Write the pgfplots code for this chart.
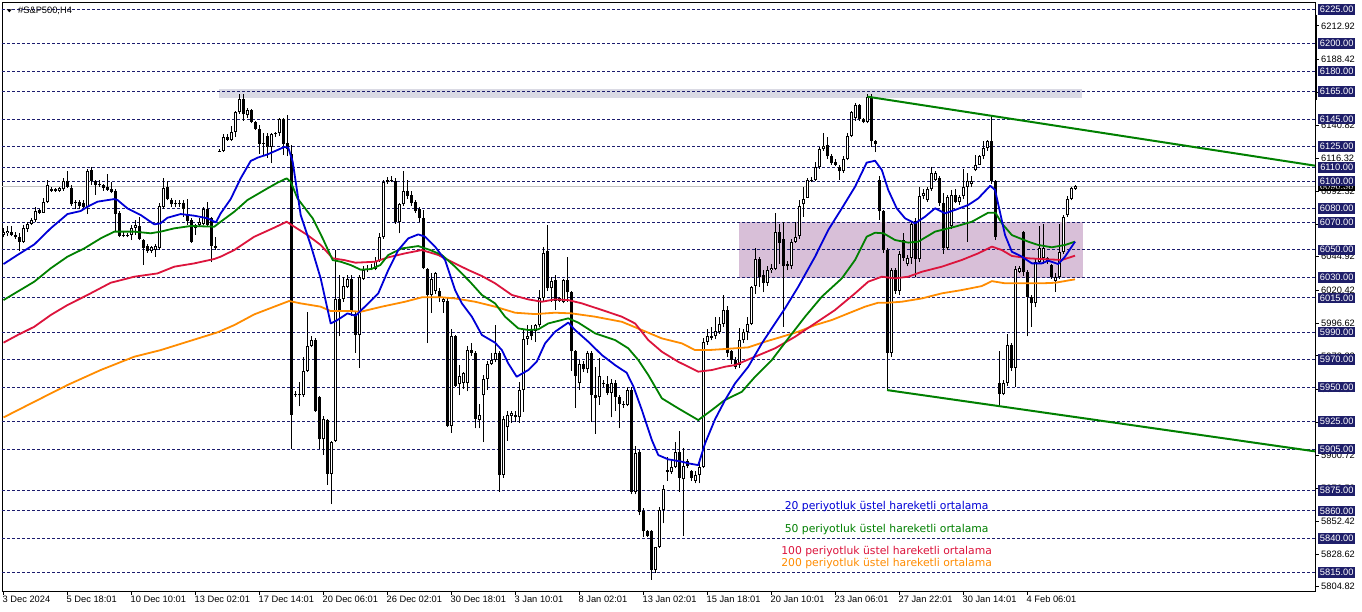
\documentclass[border=0pt]{standalone}
\usepackage{fontspec}
\setmainfont{Liberation Sans}
\newfontfamily\dejavu{DejaVu Sans}
\usepackage{pgfplots}
\pgfplotsset{compat=1.18}
\usepackage{pgfplotstable}
\definecolor{gridnavy}{RGB}{28,28,110}
\definecolor{boxnavy}{RGB}{30,30,105}
\definecolor{emablue}{RGB}{0,0,215}
\definecolor{emagreen}{RGB}{0,128,0}
\definecolor{emared}{RGB}{220,20,60}
\definecolor{emaorange}{RGB}{255,140,0}
\definecolor{topband}{RGB}{218,218,228}
\definecolor{purpband}{RGB}{216,191,216}
\definecolor{pricegray}{RGB}{192,192,192}
\newcommand\lab{\fontsize{9.3}{10}\selectfont}
\newcommand\ann{\dejavu\fontsize{10.8}{12}\selectfont}

\pgfplotstableread{
i o h l c
0 6061 6066 6059 6063
1 6062 6067 6060 6064
2 6063 6067 6060 6061
3 6061 6063 6058 6059
4 6059 6062 6049 6056
5 6056 6068 6055 6066
6 6065 6070 6063 6069
7 6069 6073 6068 6072
8 6072 6081 6070 6078
9 6079 6080 6076 6077
10 6077 6088 6077 6085
11 6085 6101 6084 6097
12 6094 6096 6092 6093
13 6094 6095 6092 6093
14 6093 6096 6092 6095
15 6094 6102 6093 6100
16 6100 6107 6095 6096
17 6095 6097 6082 6083
18 6085 6086 6080 6084
19 6085 6086 6080 6082
20 6084 6086 6079 6081
21 6081 6109 6076 6107
22 6108 6110 6097 6100
23 6100 6101 6090 6097
24 6097 6101 6096 6098
25 6097 6098 6093 6095
26 6096 6105 6093 6093.5
27 6094 6099 6091 6092
28 6093 6094 6064 6076
29 6077 6078 6059 6060
30 6061 6063 6059 6060
31 6061 6062 6059 6060
32 6061 6068 6057 6066
33 6066 6072 6061 6068
34 6067 6074 6057 6058
35 6057 6058 6039 6051
36 6053 6054 6048 6049
37 6049 6053 6048 6052
38 6050 6054 6045 6053
39 6051 6084 6050 6082
40 6081 6102 6080 6095
41 6096 6100 6086 6087
42 6086 6088 6081 6083
43 6084 6086 6081 6083
44 6083 6086 6081 6084
45 6084 6086 6074 6080
46 6075 6087 6068 6071
47 6072 6073 6055 6056
48 6066 6069 6061 6068
49 6068 6073 6067 6070
50 6069 6081 6068 6080
51 6080 6085 6067 6068
52 6073 6074 6041 6053
53 6053 6059 6050 6051
54 6122 6123 6121 6121.5
55 6122 6134 6121 6132
56 6132 6134 6129 6130
57 6130 6140 6129 6136
58 6136 6151 6132 6150
59 6150 6163 6149 6160
60 6160 6163 6144 6148.5
61 6148 6153 6146 6152
62 6152 6152.5 6142 6143
63 6143 6143.5 6137 6138
64 6138 6141 6120 6127
65 6127 6135 6119 6128
66 6133 6135 6117 6125
67 6125 6135 6113 6134
68 6134 6136 6132 6135
69 6135 6146 6133 6145
70 6145 6146 6119 6127
71 6128 6148 6118 6123
72 6120 6126 5905 5930
73 5945 5947 5943 5944
74 5944 5954 5936 5945
75 5944 5972 5943 5962
76 5962 6005 5961 5980
77 5980 5987 5979 5984
78 5984 5986 5932 5933
79 5943 5943.5 5905 5912
80 5912 5929 5901 5927
81 5926 5927 5879 5887
82 5887 5911 5865 5910
83 5911 6050 5910 6014
84 6014 6032 5987 6005
85 6014 6030 6012 6024
86 6023 6032 6022 6029
87 6029 6032 6002 6005
88 6003 6005 5975 5988
89 5988 6032 5964 6030
90 6029 6038 6028 6035
91 6035 6039 6034 6036
92 6036 6040 6035 6037
93 6036 6045 6035 6042
94 6042 6062 6041 6059.5
95 6059 6101 6058 6099
96 6101 6103 6098 6099
97 6100 6104 6099 6101
98 6100 6102 6069 6070
99 6070 6084 6062 6083
100 6083 6107 6082 6093
101 6093 6101 6087 6089
102 6090 6093 6082 6084
103 6085 6086 6077 6078
104 6080 6081 6070 6073
105 6073 6079 6036 6036.5
106 6036 6037 5982 6017
107 6017 6033 6004 6029
108 6020 6034 6018 6033
109 6020 6022 6012 6015
110 6012 6016 6004 6014
111 6013 6015 5921 5922
112 5922 5992 5917 5987
113 5987 5988 5950 5951
114 5952 5966 5944 5958
115 5953 5961 5949 5960
116 5953 5980 5947 5977
117 5977 5982 5973 5975
118 5975 5976 5920 5927
119 5926 5938 5920 5930
120 5944 5959 5910 5956
121 5956 5969 5948 5967
122 5967 5975 5966 5970
123 5970 5995 5968 5975
124 5975 5976 5874 5886
125 5886 5929 5884 5927
126 5921 5933 5911 5930
127 5929 5933 5924 5931
128 5930 5933 5925 5928
129 5928 5954 5924 5948
130 5948 5992 5932 5985
131 5985 5995 5981 5987
132 5992 5995 5984 5987
133 5991 5996 5983 5995
134 5995 6021 5994 6015
135 6015 6052 6013 6048
136 6049 6068 6020 6022
137 6022 6030 6012 6027
138 6028 6032 6006 6013
139 6013 6016 6012 6015
140 6012 6029 6011 6028
141 6028 6045 6012 6019
142 6019 6020 5962 5976
143 5976 5977 5935 5958
144 5953 5970 5948 5967
145 5967 5969 5961 5963
146 5963 5976 5960 5975
147 5975 5976 5925 5944
148 5944 5965 5916 5942
149 5943 5971 5937 5958
150 5953 5955 5950 5952
151 5952 5958 5944 5946
152 5946 5956 5928 5953
153 5953 5955 5933 5943
154 5943 5944 5920 5938
155 5938 5940 5935 5937
156 5937 5950 5936 5948
157 5948 5950 5872 5874
158 5874 5907 5872 5902
159 5903 5904 5857 5859
160 5860 5862 5841 5845
161 5845 5846 5841 5842
162 5845 5846 5810 5817
163 5817 5834 5815 5834
164 5834 5863 5833 5861
165 5861 5879 5851 5876
166 5890 5899 5882 5888.5
167 5888 5897 5887 5892
168 5892 5910 5891 5903
169 5903 5918 5874 5884
170 5883 5906 5842 5893
171 5896 5898 5891 5893
172 5889 5890 5882 5884
173 5882 5889 5880 5886
174 5886 5895 5880 5892
175 5892 5986 5891 5983
176 5983 5992 5981 5987
177 5986 5994 5984 5987
178 5987 6001 5985 5991
179 5990 6001 5989 5996
180 5996 6017 5994 6006
181 6006 6009 5972 5975
182 5976 5977 5967 5970
183 5970 5972 5963 5965
184 5966 5993 5964 5984
185 5984 5992 5982 5990
186 5990 6001 5984 5996
187 5996 6024 5995 6023
188 6024 6051 6018 6043
189 6043 6045 6023 6030
190 6032 6035 6019 6026
191 6026 6038 6024 6035
192 6035 6040 6033 6036.5
193 6036 6077 6035 6063
194 6063 6069 6040 6055
195 6058 6070 5994 6038
196 6040 6042 6035 6038
197 6038 6058 6036 6056
198 6056 6070 6055 6059.5
199 6060 6086 6058 6082
200 6083 6096 6074 6087
201 6088 6102 6088 6101
202 6100 6103 6099 6101
203 6101 6114 6100 6110
204 6110 6125 6109 6123
205 6123 6135 6122 6125.5
206 6126 6132 6116 6118
207 6118 6120 6112 6113
208 6114 6116 6111 6112
209 6110 6112 6101 6107
210 6107 6118 6106 6116
211 6116 6135 6115 6133
212 6133 6151 6132 6150
213 6146 6157 6144 6155
214 6155 6156 6144 6145
215 6145 6146 6142 6143
216 6143 6163 6142 6161
217 6161 6163 6125 6129
218 6129 6130 6121 6127
219 6101 6104 6072 6078
220 6078 6079 6048 6050
221 6050 6051 5948 5975
222 5975 6037 5972 6035
223 6035 6037 6018 6020
224 6020 6049 6017 6047
225 6057 6062 6042 6044
226 6040 6046 6038 6044
227 6044 6070 6040 6069
228 6071 6073 6030 6043
229 6043 6096 6041 6089
230 6089 6094 6087 6091
231 6086 6096 6085 6094
232 6094 6110 6093 6105.6
233 6101 6107 6100 6106
234 6102 6104 6082 6084
235 6084 6091 6047 6051
236 6051 6090 6050 6088.6
237 6067 6093.5 6065 6090
238 6090 6094 6084 6085
239 6085 6090 6082.6 6088.6
240 6089 6109 6087 6096
241 6096 6106 6056 6100
242 6098 6104 6096 6100
243 6108 6119 6107 6112
244 6112 6119 6112 6118
245 6118 6129 6116 6124
246 6124 6130 6122 6129
247 6129 6147 6098 6100
248 6100 6101 6057 6059.5
249 5953 5976 5936 5945
250 5945 5955 5944 5953
251 5953 5989 5951 5981
252 5981 5982 5962 5964
253 5964 6038 5950 6036
254 6034 6038 6033 6036.5
255 6063 6064 6031 6034
256 6034 6035 5987 6016
257 6016 6017 5994 6011
258 6011 6043 6008 6041
259 6041 6067 6040 6051
260 6044 6069 6040 6051
261 6041 6045 6040 6044
262 6039 6040 6029 6030
263 6027 6033 6019.5 6030.4
264 6030 6069 6029 6048.6
265 6048.6 6075 6047 6074
266 6075 6089 6074 6087
267 6087 6096 6086 6095
268 6094.5 6097 6093.5 6096.38
}\candles

\pgfplotstableread{
i p
0 6039.6
3.5 6046.2
7.7 6053.9
11.8 6065.6
16 6076
19.3 6078.2
21 6081.3
23.5 6085
27.7 6086.9
28.5 6086.2
31 6080.1
34.3 6075.3
37.7 6068.5
39.2 6069.2
41 6073.3
44.3 6076
47.7 6074.8
51 6072.9
53.1 6069.9
54.3 6076.5
56.8 6086.9
59.3 6102
61.8 6114.6
63.5 6117
66 6119.4
68.5 6122.6
70.2 6124.8
71.2 6124.3
72.3 6114.1
74.3 6075.3
76.8 6053.5
79.3 6029.2
81.8 5996.4
83.5 5998.9
86 6003.7
88 6002
91.2 6011
93.7 6018.3
96.2 6035.3
98.7 6049.8
101.2 6058.3
103.7 6061.2
105.4 6059.5
107.9 6052.3
110.4 6042.5
112.9 6020.7
114.6 6011
117.1 6001.3
119.6 5988
122.9 5982.4
124.6 5977
126.2 5967.3
128.3 5957.6
131.2 5962.5
133.3 5968.5
135.4 5981.9
137.9 5990.4
141.2 5997
142.9 5991.6
146.2 5983.1
149.6 5973.4
152.9 5966.1
155.8 5960.5
157.5 5950.4
159.6 5933.4
162.1 5911.5
163.7 5900.6
166.2 5897.5
169.6 5895.8
171.2 5894.6
173.7 5893.3
175.4 5909.1
177.9 5926.7
180.4 5940.6
182.9 5952.8
186.2 5964.9
189.6 5981.9
192.9 5996.5
195.4 6007.4
198.7 6023.1
202.9 6045
206.2 6064.4
209.6 6080.2
212.9 6095.9
215.8 6113.4
217.9 6114.8
219.6 6108
221.2 6093.5
223.3 6080.2
225.4 6072.9
227.9 6069.2
230.4 6074.1
232.9 6080.2
235.4 6076.5
237.9 6079
241.2 6082.6
243.7 6087.4
246.7 6096.6
247.9 6093.5
249.2 6076.5
250.4 6060.7
252.1 6048.6
254.6 6045
257.1 6040.1
259.6 6040.1
261.2 6042.1
263.7 6039.6
265.4 6045
267.9 6055.9
}\emaA

\pgfplotstableread{
i p
0 6013.4
3.5 6019.5
7.7 6026.8
11.8 6036.5
16 6045
20.2 6051
24.3 6058.3
27.7 6063.2
32.7 6063.2
36.8 6062
39.3 6063.2
42.7 6065.6
46.8 6067.3
52.7 6066.8
54.3 6070.4
57.7 6077.7
61 6086.2
66 6094.7
68.5 6098.8
70.8 6102
71.8 6099.5
73.5 6087.4
77.3 6072.9
79.8 6058.3
82.3 6042.5
84.3 6041.3
86.8 6038.9
89.3 6035.5
92 6036
94.2 6038.9
96.2 6046.2
99.6 6051
103.7 6052.7
106.7 6049.8
109.6 6046.2
112.9 6037.7
116.6 6026.8
119.6 6017.1
122.9 6011
125.4 6001.3
128.7 5992.8
131.2 5991.6
133.7 5992.1
136.2 5996.4
141.2 6000.1
143.7 5997
147.9 5989.2
152.9 5984.3
156.2 5978.3
158.7 5969.8
161.2 5958.9
164.6 5941.9
168.7 5934.6
173.7 5926.1
177.1 5933.4
180.2 5940.4
184.6 5946.7
187.9 5957.6
192.1 5969.8
196.2 5985.5
200.4 6001.3
204.6 6015.9
209.6 6029.2
212.9 6042.6
215.8 6059.5
217.9 6062.4
220 6062
222.9 6057.1
226.2 6055.2
228.7 6055.9
232.9 6063.2
237.9 6066.8
242.1 6070.4
246.2 6077
248 6077
249.6 6069.2
252.1 6060.7
256.2 6055.9
258.7 6053.5
262.1 6051.8
265.4 6053.5
267.9 6055.9
}\emaB

\pgfplotstableread{
i p
0 5982.4
3.5 5987.9
7.7 5994
11.8 6002.5
16 6009.8
21 6017.1
26.8 6026
32.7 6030.4
38.5 6032.8
42.7 6037.7
47.7 6040.1
52.7 6043.3
54.3 6045
57.7 6049.8
62.7 6059.5
67.7 6066.1
70.8 6070.4
72.7 6066.8
76 6060.7
79.3 6053.5
82.3 6043.8
85.2 6042.5
88 6040.6
92.9 6041.3
96.2 6044.5
100.4 6047.4
104.6 6049.8
108.7 6046.2
112 6041.3
116.2 6035.3
119.6 6030.9
122.9 6025.6
127.1 6017.1
131.2 6013.9
134.6 6012.2
137.9 6013.9
141.2 6013.4
144.6 6011
149.6 6006.2
154.6 6001.3
157.9 5996.4
161.2 5984.3
164.6 5975.8
168.7 5968.5
173.7 5961.3
177.1 5962.5
180.4 5964.9
182.9 5966.1
187.9 5972.2
192.9 5978.3
197.9 5986.7
202.9 5996.5
207.9 6006.2
212.9 6018.3
216.2 6026.8
219.6 6030.4
222.9 6029.2
226.2 6030.4
229.6 6034
234.6 6037.7
239.6 6042.6
243.7 6047.4
247.1 6052.3
249.6 6049.8
252.1 6045.5
256.2 6043.8
261.2 6043
264.6 6042.6
267.9 6045.7
}\emaC

\pgfplotstableread{
i p
0 5928
7.7 5939.4
16 5951.6
24.3 5962.5
32.7 5972.2
39.3 5977
46 5983.1
53.5 5989.9
57.7 5995.2
62.7 6003
67.7 6008.6
71.4 6012.7
74.3 6011
79.3 6008.6
81.8 6005.4
86.8 6005.4
89.3 6004.9
94.6 6008.6
100.4 6012.2
104.6 6015.4
109.6 6015.4
112.9 6014.6
117.9 6012.2
122.9 6008.6
127.9 6004.2
132.9 6003.2
137.9 6004.2
142.1 6003.7
147.9 6001.3
154.6 5997.6
159.6 5991.6
164.6 5985.5
169.6 5981.9
172.9 5977
176.2 5977
180.4 5977.8
186.2 5979
190.4 5983.1
194.6 5986.7
198.7 5990.4
202.9 5995.2
207.1 5998.9
211.2 6003.7
215.4 6008.6
218.7 6011.5
221.2 6011.5
224.6 6012.2
229.6 6014.6
234.6 6018.3
239.6 6020.7
244.6 6023.6
247.1 6027.2
250.4 6025.6
254.6 6025.6
259.6 6025.6
262.9 6026
267.9 6028.5
}\emaD

\begin{document}
\begin{tikzpicture}[x=1pt,y=1pt]
\fill[white] (0,0) rectangle (1362,611);
\path[use as bounding box] (0,0) rectangle (1362,611);
\begin{axis}[
  at={(2pt,20pt)}, anchor=south west,
  scale only axis, width=1313pt, height=589pt,
  xmin=-0.375, xmax=327.9, ymin=5801.7, ymax=6230.3,
  axis line style={black, line width=0.9pt},
  ticks=none, clip=false,
]
% shaded zones
\fill[topband] (axis cs:53.9,6160.7) rectangle (axis cs:269.6,6167.0);
\fill[purpband] (axis cs:183.9,6029.7) rectangle (axis cs:269.9,6070.0);
% level lines
\pgfplotsinvokeforeach{6225,6200,6180,6165,6145,6125,6110,6100,6080,6070,6050,6030,6015,5990,5970,5950,5925,5905,5875,5860,5840,5815}{
  \draw[gridnavy, line width=0.9pt, dash pattern=on 3pt off 2pt] (axis cs:-0.375,#1) -- (axis cs:327.9,#1);
}
% current price line
\draw[pricegray, line width=0.9pt] (axis cs:-0.375,6096.38) -- (axis cs:327.9,6096.38);
% candles: wicks
\addplot[draw=none, mark=none, forget plot,
  error bars/.cd, y dir=plus, y explicit, error mark=none,
  error bar style={draw=black, line width=1pt}]
  table[x=i, y=l, y error expr={\thisrow{h}-\thisrow{l}}] {\candles};
% candles: bodies
\addplot[draw=none, mark=none, forget plot,
  error bars/.cd, y dir=plus, y explicit, error mark=none,
  error bar style={draw=black, line width=3pt}]
  table[x=i, y expr={min(\thisrow{o},\thisrow{c})}, y error expr={max(abs(\thisrow{c}-\thisrow{o}),0.73)}] {\candles};
% candles: hollow inside of rising bars
\addplot[draw=none, mark=none, forget plot,
  error bars/.cd, y dir=plus, y explicit, error mark=none,
  error bar style={draw=white, line width=1pt}]
  table[x=i, y expr={\thisrow{o}+0.73}, y error expr={max(\thisrow{c}-\thisrow{o}-1.46,0)}] {\candles};
% moving averages
\addplot[emaorange, line width=1.8pt, line join=round, mark=none] table[x=i,y=p] {\emaD};
\addplot[emared, line width=1.8pt, line join=round, mark=none] table[x=i,y=p] {\emaC};
\addplot[emagreen, line width=1.8pt, line join=round, mark=none] table[x=i,y=p] {\emaB};
\addplot[emablue, line width=1.8pt, line join=round, mark=none] table[x=i,y=p] {\emaA};
% trend lines
\addplot[emagreen, line width=2pt, mark=none] coordinates {(216.0,6161.4) (327.9,6111.2)};
\addplot[emagreen, line width=2pt, mark=none] coordinates {(220.9,5947.9) (327.9,5903.3)};
% annotations
\node[anchor=base, inner sep=0pt, font=\ann, text=emablue] at (axis cs:220.8,5861.3) {20 periyotluk üstel hareketli ortalama};
\node[anchor=base, inner sep=0pt, font=\ann, text=emagreen] at (axis cs:220.8,5844.4) {50 periyotluk üstel hareketli ortalama};
\node[anchor=base, inner sep=0pt, font=\ann, text=emared] at (axis cs:220.8,5828.6) {100 periyotluk üstel hareketli ortalama};
\node[anchor=base, inner sep=0pt, font=\ann, text=emaorange] at (axis cs:220.8,5819.6) {200 periyotluk üstel hareketli ortalama};
% date axis ticks
\pgfplotsinvokeforeach{0,16,32,48,64,80,96,112,128,144,160,176,192,208,224,240,256}{
  \draw[black, line width=0.9pt] (axis cs:#1,5801.7) -- (axis cs:#1,5798.8);
}
\node[anchor=north west, inner sep=0pt, font=\lab] at (axis cs:0,5801.7) [xshift=-1pt,yshift=-5pt] {3 Dec 2024};
\node[anchor=north west, inner sep=0pt, font=\lab] at (axis cs:16,5801.7) [xshift=-1pt,yshift=-5pt] {5 Dec 18:01};
\node[anchor=north west, inner sep=0pt, font=\lab] at (axis cs:32,5801.7) [xshift=-1pt,yshift=-5pt] {10 Dec 10:01};
\node[anchor=north west, inner sep=0pt, font=\lab] at (axis cs:48,5801.7) [xshift=-1pt,yshift=-5pt] {13 Dec 02:01};
\node[anchor=north west, inner sep=0pt, font=\lab] at (axis cs:64,5801.7) [xshift=-1pt,yshift=-5pt] {17 Dec 14:01};
\node[anchor=north west, inner sep=0pt, font=\lab] at (axis cs:80,5801.7) [xshift=-1pt,yshift=-5pt] {20 Dec 06:01};
\node[anchor=north west, inner sep=0pt, font=\lab] at (axis cs:96,5801.7) [xshift=-1pt,yshift=-5pt] {26 Dec 02:01};
\node[anchor=north west, inner sep=0pt, font=\lab] at (axis cs:112,5801.7) [xshift=-1pt,yshift=-5pt] {30 Dec 18:01};
\node[anchor=north west, inner sep=0pt, font=\lab] at (axis cs:128,5801.7) [xshift=-1pt,yshift=-5pt] {3 Jan 10:01};
\node[anchor=north west, inner sep=0pt, font=\lab] at (axis cs:144,5801.7) [xshift=-1pt,yshift=-5pt] {8 Jan 02:01};
\node[anchor=north west, inner sep=0pt, font=\lab] at (axis cs:160,5801.7) [xshift=-1pt,yshift=-5pt] {13 Jan 02:01};
\node[anchor=north west, inner sep=0pt, font=\lab] at (axis cs:176,5801.7) [xshift=-1pt,yshift=-5pt] {15 Jan 18:01};
\node[anchor=north west, inner sep=0pt, font=\lab] at (axis cs:192,5801.7) [xshift=-1pt,yshift=-5pt] {20 Jan 10:01};
\node[anchor=north west, inner sep=0pt, font=\lab] at (axis cs:208,5801.7) [xshift=-1pt,yshift=-5pt] {23 Jan 06:01};
\node[anchor=north west, inner sep=0pt, font=\lab] at (axis cs:224,5801.7) [xshift=-1pt,yshift=-5pt] {27 Jan 22:01};
\node[anchor=north west, inner sep=0pt, font=\lab] at (axis cs:240,5801.7) [xshift=-1pt,yshift=-5pt] {30 Jan 14:01};
\node[anchor=north west, inner sep=0pt, font=\lab] at (axis cs:256,5801.7) [xshift=-1pt,yshift=-5pt] {4 Feb 06:01};
% price scale: current price box
\node[fill=black, text=white, font=\lab, inner sep=0pt, minimum width=37pt, minimum height=10pt, anchor=west] at (axis cs:327.9,6096.38) [xshift=3pt] {6096.38};
% price scale: plain labels
\pgfplotsinvokeforeach{6212.92,6188.42,6164.62,6140.82,6116.32,6092.32,6068.52,6044.92,6020.42,5996.62,5972.82,5948.52,5924.52,5900.72,5876.52,5852.42,5828.62,5804.82}{
  \draw[black, line width=0.8pt] (axis cs:327.9,#1) -- (axis cs:328.9,#1);
  \node[anchor=west, inner sep=0pt, font=\lab, text=black] at (axis cs:327.9,#1) [xshift=6pt] {#1};
}
% price scale: level boxes
\pgfplotsinvokeforeach{6225,6200,6180,6165,6145,6125,6110,6100,6080,6070,6050,6030,6015,5990,5970,5950,5925,5905,5875,5860,5840,5815}{
  \node[fill=boxnavy, text=white, font=\lab, inner sep=0pt, minimum width=37pt, minimum height=10.5pt, anchor=west] at (axis cs:327.9,#1) [xshift=3pt] {#1.00};
}
\end{axis}
% title and marker
\fill[black] (6.7,601.7) -- (12,601.7) -- (9.35,598.7) -- cycle;
\node[anchor=base west, inner sep=0pt, font=\lab] at (18,597.3) {\#S\&P500,H4};
\draw[black, line width=2.2pt] (1316,596) -- (1316,511);
\end{tikzpicture}
\end{document}
